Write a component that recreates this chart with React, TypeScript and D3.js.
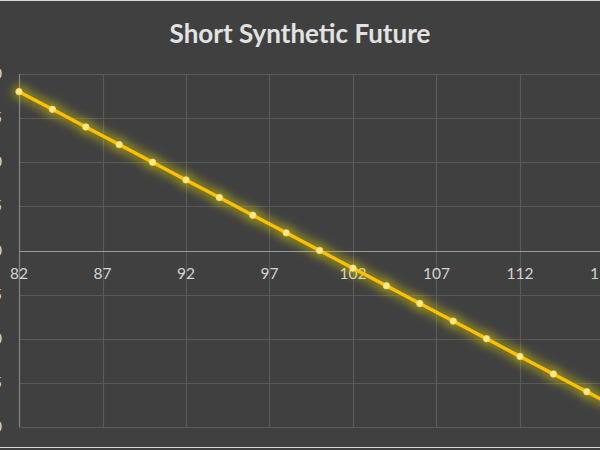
import * as d3 from "d3";
import React, { useEffect, useRef } from "react";

// underlying price at expiry
const prices = [82, 84, 86, 88, 90, 92, 94, 96, 98, 100, 102, 104, 106, 108, 110, 112, 114, 116, 118];
// profit / loss of the short synthetic future
const pnl = [18, 16, 14, 12, 10, 8, 6, 4, 2, 0, -2, -4, -6, -8, -10, -12, -14, -16, -18];
const xTicks = [82, 87, 92, 97, 102, 107, 112, 117];
const yTicks = [-20, -15, -10, -5, 0, 5, 10, 15, 20];

const title = "Short Synthetic Future";

const W = 600;
const H = 450;

class PayoffChart {
    svg: d3.Selection<SVGSVGElement, unknown, null, undefined>;

    constructor(el: SVGSVGElement) {
        this.svg = d3.select(el);
    }

    draw() {
        const svg = this.svg;
        svg.selectAll("*").remove();

        const xScale = d3.scaleLinear().domain([82, 118]).range([19, 19 + 36 * 16.7]);
        const yScale = d3.scaleLinear().domain([-20, 20]).range([427, 74]);

        const defs = svg.append("defs");
        const glow = defs
            .append("filter")
            .attr("id", "glow")
            .attr("x", "-20%")
            .attr("y", "-20%")
            .attr("width", "140%")
            .attr("height", "140%");
        glow.append("feGaussianBlur").attr("in", "SourceAlpha").attr("stdDeviation", 6).attr("result", "blur");
        glow.append("feFlood").attr("flood-color", "#e8dc10").attr("flood-opacity", 0.8);
        glow.append("feComposite").attr("in2", "blur").attr("operator", "in").attr("result", "halo");
        const merge = glow.append("feMerge");
        merge.append("feMergeNode").attr("in", "halo");
        merge.append("feMergeNode").attr("in", "halo");
        merge.append("feMergeNode").attr("in", "SourceGraphic");

        svg.append("rect").attr("width", W).attr("height", H).attr("fill", "#404040");
        svg.append("line").attr("x1", 0).attr("x2", W).attr("y1", 0.5).attr("y2", 0.5).attr("stroke", "#d9d9d9");
        svg.append("line").attr("x1", 0).attr("x2", W).attr("y1", 447.5).attr("y2", 447.5).attr("stroke", "#d9d9d9");

        // grid
        svg.append("g")
            .selectAll("line")
            .data(yTicks.filter((t) => t !== 0))
            .join("line")
            .attr("x1", xScale(82))
            .attr("x2", W)
            .attr("y1", (d) => Math.round(yScale(d)) + 0.5)
            .attr("y2", (d) => Math.round(yScale(d)) + 0.5)
            .attr("stroke", "#5a5a5a")
            .attr("stroke-width", 1.2);

        svg.append("g")
            .selectAll("line")
            .data(xTicks.slice(1))
            .join("line")
            .attr("x1", (d) => Math.round(xScale(d)) + 0.5)
            .attr("x2", (d) => Math.round(xScale(d)) + 0.5)
            .attr("y1", yScale(20))
            .attr("y2", yScale(-20))
            .attr("stroke", "#5a5a5a")
            .attr("stroke-width", 1.2);

        // axes lines
        svg.append("line")
            .attr("x1", Math.round(xScale(82)) + 0.5)
            .attr("x2", Math.round(xScale(82)) + 0.5)
            .attr("y1", yScale(20))
            .attr("y2", yScale(-20))
            .attr("stroke", "#858585")
            .attr("stroke-width", 1.2);
        svg.append("line")
            .attr("x1", xScale(82))
            .attr("x2", W)
            .attr("y1", Math.round(yScale(0)) + 0.5)
            .attr("y2", Math.round(yScale(0)) + 0.5)
            .attr("stroke", "#9a9a9a")
            .attr("stroke-width", 1.2);

        const font = "Lato, 'Open Sans', sans-serif";

        svg.append("g")
            .selectAll("text")
            .data(xTicks)
            .join("text")
            .attr("x", (d) => xScale(d))
            .attr("y", yScale(0) + 28)
            .attr("text-anchor", "middle")
            .attr("font-family", font)
            .attr("font-size", 15.5)
            .attr("fill", "#d4d4d4")
            .text((d) => d);

        svg.append("g")
            .selectAll("text")
            .data(yTicks)
            .join("text")
            .attr("x", 2)
            .attr("y", (d) => yScale(d) + 5)
            .attr("text-anchor", "end")
            .attr("font-family", font)
            .attr("font-size", 15.5)
            .attr("fill", "#d4d4d4")
            .text((d) => d);

        svg.append("text")
            .attr("x", 300)
            .attr("y", 43)
            .attr("text-anchor", "middle")
            .attr("font-family", font)
            .attr("font-weight", "bold")
            .attr("font-size", 26)
            .attr("fill", "#e2e2e2")
            .text(title);

        const points = prices.map((p, i) => [p, pnl[i]] as [number, number]);

        const lineGenerator = d3
            .line<[number, number]>()
            .x((d) => xScale(d[0]))
            .y((d) => yScale(d[1]));

        const series = svg.append("g").attr("filter", "url(#glow)");
        series
            .append("path")
            .datum(points)
            .attr("fill", "none")
            .attr("stroke", "#ffc000")
            .attr("stroke-width", 3.4)
            .attr("d", lineGenerator);

        series
            .selectAll("circle")
            .data(points)
            .join("circle")
            .attr("cx", (d) => xScale(d[0]))
            .attr("cy", (d) => yScale(d[1]))
            .attr("r", 3.2)
            .attr("fill", "#ffe98a")
            .attr("stroke", "#ffdc50")
            .attr("stroke-width", 0.8);
    }
}

const App: React.FC = () => {
    const svgRef = useRef<SVGSVGElement>(null);

    useEffect(() => {
        if (!svgRef.current) return;
        const chart = new PayoffChart(svgRef.current);
        chart.draw();
    }, []);

    return (
        <svg
            ref={svgRef}
            width={W}
            height={H}
            style={{ position: "absolute", left: 0, top: 0, display: "block" }}
        />
    );
};

export default App;
